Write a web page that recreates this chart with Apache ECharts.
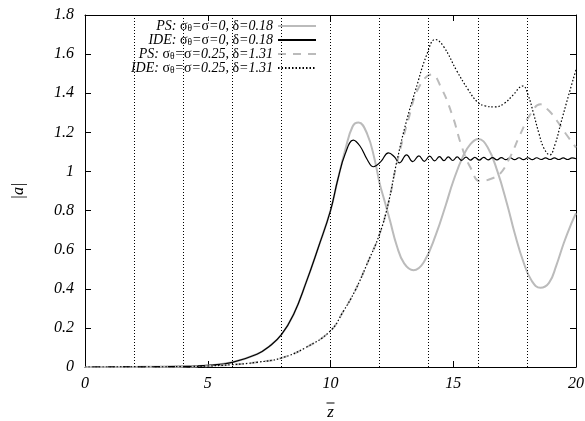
<!DOCTYPE html>
<html><head><meta charset="utf-8">
<script src="https://cdn.jsdelivr.net/npm/echarts@6/dist/echarts.min.js"></script>
<style>html,body{margin:0;padding:0;background:#fff}#c{width:585px;height:421px}</style>
</head><body><div id="c"></div>
<script>
// PS, sigma=0, delta=0.18
const psLowZ = [0,2,4,5,6,7,7.5,8,8.5,9,9.5,10,10.3,10.6,10.9,11.14,11.5,11.8,12.0,12.2,12.42,12.7,13.0,13.38,13.8,14.3,14.7,15.0,15.4,15.7,16.02,16.4,16.8,17.2,17.5,17.87,18.2,18.55,18.9,19.2,19.5,19.8,20];
const psLowA = [0,0.0005,0.003,0.008,0.024,0.065,0.105,0.165,0.27,0.43,0.61,0.80,0.96,1.11,1.23,1.25,1.19,1.06,0.94,0.85,0.75,0.62,0.53,0.495,0.536,0.68,0.83,0.95,1.078,1.14,1.166,1.124,1.0,0.83,0.685,0.533,0.44,0.405,0.43,0.52,0.633,0.73,0.786];
// IDE, sigma=0, delta=0.18
const ideLowZ = [0,2,4,5,6,7,7.5,8,8.5,9,9.5,10,10.3,10.6,10.93,11.2,11.5,11.75,12.05,12.36,12.6,12.81,13.1,13.35,13.6,13.82,14.04,14.24,14.44,14.62,14.8,14.98,15.16,15.34,15.52,15.7,15.88,16.06,16.24,16.42,16.6,16.78,16.96,17.14,17.32,17.5,17.68,17.86,18.04,18.22,18.4,18.58,18.76,18.94,19.12,19.3,19.48,19.66,19.84,20];
const ideLowA = [0,0.0005,0.003,0.008,0.024,0.065,0.105,0.165,0.27,0.43,0.61,0.80,0.96,1.09,1.16,1.13,1.06,1.024,1.05,1.095,1.075,1.044,1.085,1.05,1.08,1.052,1.078,1.054,1.076,1.055,1.075,1.056,1.074,1.057,1.073,1.058,1.072,1.058,1.072,1.059,1.071,1.059,1.071,1.06,1.07,1.06,1.07,1.06,1.07,1.06,1.07,1.061,1.069,1.061,1.069,1.061,1.069,1.061,1.069,1.065];
// PS, sigma=0.25, delta=1.31
const psHighZ = [0,2,4,5,6,7,8,9,10,10.5,11,11.5,12,12.36,12.7,13.18,13.6,14.13,14.5,14.95,15.36,15.7,16.1,16.6,16.92,17.3,17.73,18.14,18.55,18.9,19.23,19.6,20];
const psHighA = [0,0.0003,0.002,0.005,0.012,0.024,0.046,0.1,0.185,0.28,0.39,0.53,0.68,0.84,1.04,1.27,1.43,1.496,1.43,1.292,1.122,1.02,0.95,0.965,0.99,1.07,1.19,1.292,1.343,1.31,1.258,1.19,1.122];
// IDE, sigma=0.25, delta=1.31
const ideHighZ = [0,2,4,5,6,7,8,9,10,10.5,11,11.5,12,12.36,12.7,13.1,13.45,13.93,14.27,14.6,15.15,15.6,15.97,16.3,16.71,17.1,17.4,17.84,18.05,18.28,18.5,18.69,18.93,19.15,19.37,19.7,20];
const ideHighA = [0,0.0003,0.002,0.005,0.012,0.024,0.046,0.1,0.185,0.28,0.39,0.53,0.68,0.84,1.05,1.26,1.41,1.60,1.675,1.64,1.513,1.42,1.357,1.335,1.33,1.35,1.386,1.437,1.39,1.292,1.19,1.12,1.085,1.14,1.241,1.39,1.52];
// vertical dotted reference lines
const guideZ = [2,4,6,8,10,12,14,16,18];
const seriesNames = ['PS: σθ=σ=0, δ=0.18','IDE: σθ=σ=0, δ=0.18','PS: σθ=σ=0.25, δ=1.31','IDE: σθ=σ=0.25, δ=1.31'];
const legendRich = [
  '{i|PS:} {g|σ}{s|θ}{i|=}{g|σ}{i|=0,} {g|δ}{i|=0.18}',
  '{i|IDE:} {g|σ}{s|θ}{i|=}{g|σ}{i|=0,} {g|δ}{i|=0.18}',
  '{i|PS:} {g|σ}{s|θ}{i|=}{g|σ}{i|=0.25,} {g|δ}{i|=1.31}',
  '{i|IDE:} {g|σ}{s|θ}{i|=}{g|σ}{i|=0.25,} {g|δ}{i|=1.31}'
];

function zip(xs, ys){ const n=Math.min(xs.length, ys.length); const out=[]; for(let i=0;i<n;i++) out.push([xs[i], ys[i]]); return out; }

const FONT = "'Liberation Serif', 'DejaVu Serif', serif";
const chart = echarts.init(document.getElementById('c'), null, {renderer:'canvas'});
const commonLine = {type:'line', symbol:'none', smooth:0.45, xAxisIndex:0, yAxisIndex:0, animation:false, silent:true};
const option = {
  animation:false,
  backgroundColor:'#fff',
  grid:{left:85, right:9, top:15, bottom:54, containLabel:false, outerBoundsMode:'none'},
  legend:{
    orient:'vertical', right:263, top:14, align:'right',
    itemWidth:38, itemHeight:8, itemGap:0,
    itemStyle:{opacity:0},
    data:seriesNames,
    formatter:function(name){ return legendRich[seriesNames.indexOf(name)]; },
    textStyle:{
      fontFamily:FONT, fontSize:14, color:'#000', lineHeight:12,
      rich:{
        i:{fontFamily:FONT, fontStyle:'italic', fontSize:14, color:'#000', lineHeight:12},
        g:{fontFamily:FONT, fontStyle:'normal', fontSize:14, color:'#000', lineHeight:12},
        s:{fontFamily:FONT, fontStyle:'normal', fontSize:9.5, color:'#000', lineHeight:9, padding:[4,0,0,0]}
      }
    }
  },
  xAxis:[
    {type:'value', min:0, max:20, interval:5, position:'bottom',
     name:'{b| }\n{z|z}', nameLocation:'middle', nameGap:32.5,
     nameTextStyle:{fontFamily:FONT, color:'#000', align:'center',
       rich:{b:{fontSize:8, width:8, height:1, lineHeight:7, backgroundColor:'#000', align:'center'},
             z:{fontFamily:FONT, fontStyle:'italic', fontSize:17, lineHeight:13, color:'#000', align:'center'}}},
     axisLine:{show:true, onZero:false, lineStyle:{color:'#000', width:1}},
     axisTick:{show:true, inside:true, length:6, lineStyle:{color:'#000'}},
     axisLabel:{show:true, margin:9, fontFamily:FONT, fontStyle:'italic', fontSize:16, color:'#000'},
     splitLine:{show:false}},
    {type:'value', min:0, max:20, interval:5, position:'top',
     axisLine:{show:true, onZero:false, lineStyle:{color:'#000', width:1}},
     axisTick:{show:true, inside:true, length:6, lineStyle:{color:'#000'}},
     axisLabel:{show:false}, splitLine:{show:false}}
  ],
  yAxis:[
    {type:'value', min:0, max:1.8, interval:0.2, position:'left',
     name:'|a|', nameLocation:'middle', nameGap:58, nameRotate:90,
     nameTextStyle:{fontFamily:FONT, fontStyle:'italic', fontSize:16, color:'#000'},
     axisLine:{show:true, onZero:false, lineStyle:{color:'#000', width:1}},
     axisTick:{show:true, inside:true, length:6, lineStyle:{color:'#000'}},
     axisLabel:{show:true, margin:11, fontFamily:FONT, fontStyle:'italic', fontSize:16, color:'#000'},
     splitLine:{show:false}},
    {type:'value', min:0, max:1.8, interval:0.2, position:'right',
     axisLine:{show:true, onZero:false, lineStyle:{color:'#000', width:1}},
     axisTick:{show:true, inside:true, length:6, lineStyle:{color:'#000'}},
     axisLabel:{show:false}, splitLine:{show:false}}
  ],
  series:[
    Object.assign({}, commonLine, {name:seriesNames[0], data:zip(psLowZ, psLowA), z:2,
      lineStyle:{color:'#bbbbbb', width:2, type:'solid'}, itemStyle:{color:'#bbbbbb'},
      markLine:{silent:true, symbol:['none','none'], label:{show:false}, animation:false,
        lineStyle:{color:'#000', width:1, type:[1,2]},
        data:guideZ.map(v=>({xAxis:v}))}}),
    Object.assign({}, commonLine, {name:seriesNames[1], data:zip(ideLowZ, ideLowA), z:3,
      lineStyle:{color:'#000', width:1.2, type:'solid'}, itemStyle:{color:'#000'}}),
    Object.assign({}, commonLine, {name:seriesNames[2], data:zip(psHighZ, psHighA), z:4,
      lineStyle:{color:'#bbbbbb', width:2, type:[8,7]}, itemStyle:{color:'#bbbbbb'}}),
    Object.assign({}, commonLine, {name:seriesNames[3], data:zip(ideHighZ, ideHighA), z:5,
      lineStyle:{color:'#000', width:1.2, type:[1.5,2]}, itemStyle:{color:'#000'}})
  ]
};
chart.setOption(option);
</script>
</body></html>
